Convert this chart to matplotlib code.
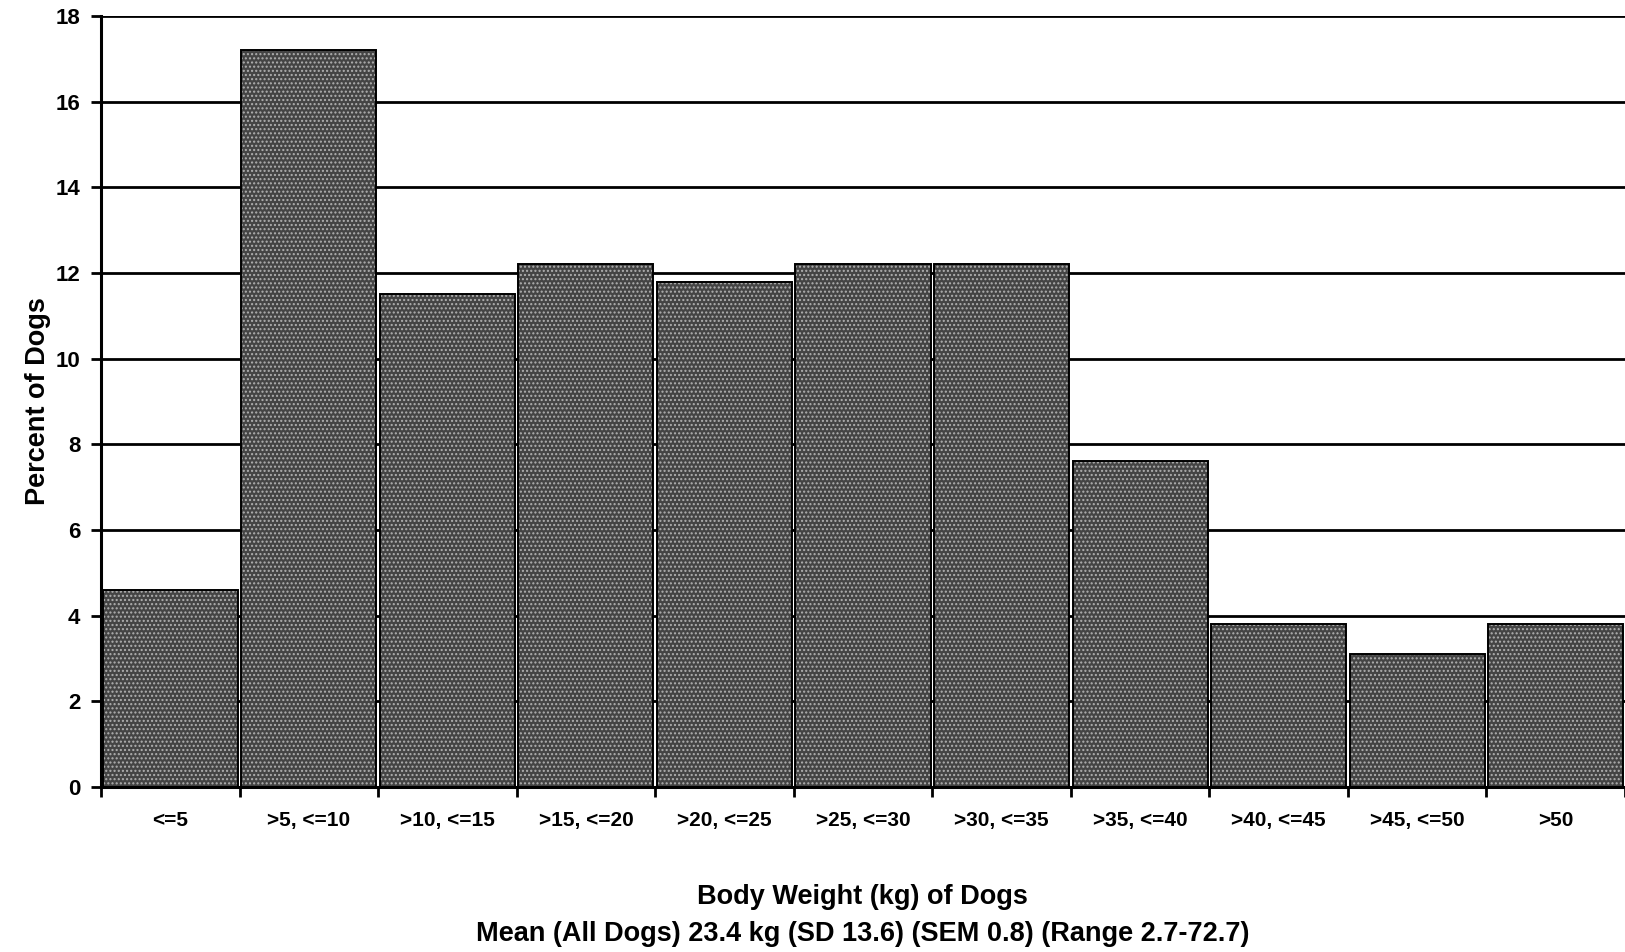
import matplotlib
matplotlib.use("Agg")
import matplotlib.pyplot as plt
import numpy as np

categories = ["<=5", ">5, <=10", ">10, <=15", ">15, <=20", ">20, <=25",
              ">25, <=30", ">30, <=35", ">35, <=40", ">40, <=45", ">45, <=50", ">50"]
percent = [4.6, 17.2, 11.5, 12.2, 11.8, 12.2, 12.2, 7.6, 3.8, 3.1, 3.8]
yticks = [0, 2, 4, 6, 8, 10, 12, 14, 16, 18]

plt.rcParams['font.family'] = ['Liberation Sans', 'DejaVu Sans']
plt.rcParams['font.weight'] = 'bold'
plt.rcParams['hatch.linewidth'] = 1.0

fig = plt.figure(figsize=(16.25, 9.52), dpi=100)
ax = fig.add_axes([101/1625, 1-787/952, 1-101/1625, (787-16)/952])

x = np.arange(len(categories))
ax.bar(x, percent, width=0.975, color='#444444', edgecolor='#b0b0b0',
       linewidth=0, hatch='....', zorder=2)
ax.bar(x, percent, width=0.975, color='none', edgecolor='black',
       linewidth=1.4, zorder=3)

ax.set_xlim(-0.5, len(categories) - 0.5)
ax.set_ylim(0, 18)
ax.set_yticks(yticks)
ax.set_yticklabels([str(v) for v in yticks], fontsize=16, fontweight='bold')
ax.yaxis.grid(True, color='black', linewidth=2)
ax.set_axisbelow(True)

ax.set_xticks(np.arange(len(categories) + 1) - 0.5)
ax.set_xticklabels([])
ax.set_xticks(x, minor=True)
ax.set_xticklabels(categories, minor=True, fontsize=15, fontweight='bold')
ax.tick_params(axis='x', which='minor', length=0, pad=17)
ax.tick_params(axis='x', which='major', length=7, width=2, direction='out')
ax.tick_params(axis='y', length=7, width=2, direction='out', pad=8)

for s in ['top', 'right']:
    ax.spines[s].set_visible(False)
for s in ['left', 'bottom']:
    ax.spines[s].set_linewidth(2.2)

ax.set_ylabel("Percent of Dogs", fontsize=19.5, fontweight='bold', labelpad=3)

fig.text(0.531, 1-897/952, "Body Weight (kg) of Dogs", ha='center', va='center',
         fontsize=19.5, fontweight='bold')
fig.text(0.531, 1-934/952, "Mean (All Dogs) 23.4 kg (SD 13.6) (SEM 0.8) (Range 2.7-72.7)",
         ha='center', va='center', fontsize=19.5, fontweight='bold')

fig.savefig("out.png", dpi=100)
